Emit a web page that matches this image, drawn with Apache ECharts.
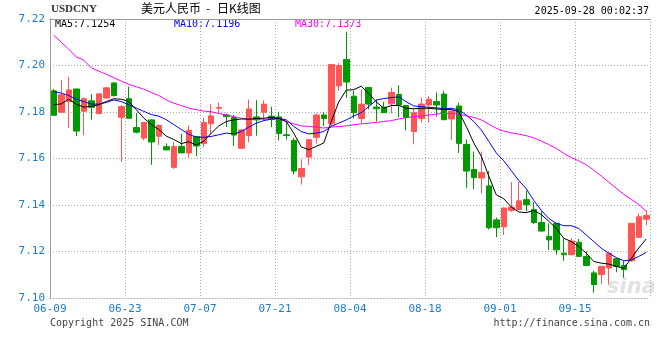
<!DOCTYPE html>
<html><head><meta charset="utf-8">
<script src="https://cdn.jsdelivr.net/npm/echarts@6/dist/echarts.min.js"></script>
<style>html,body{margin:0;padding:0;background:#fff}#c{width:660px;height:360px}</style>
</head><body><div id="c"></div>
<script>
const dates = ['06-09','06-10','06-11','06-12','06-13','06-16','06-17','06-18','06-19','06-20',
'06-23','06-24','06-25','06-26','06-27','06-30','07-01','07-02','07-03','07-04',
'07-07','07-08','07-09','07-10','07-11','07-14','07-15','07-16','07-17','07-18',
'07-21','07-22','07-23','07-24','07-25','07-28','07-29','07-30','07-31','08-01',
'08-04','08-05','08-06','08-07','08-08','08-11','08-12','08-13','08-14','08-15',
'08-18','08-19','08-20','08-21','08-22','08-25','08-26','08-27','08-28','08-29',
'09-01','09-02','09-03','09-04','09-05','09-08','09-09','09-10','09-11','09-12',
'09-15','09-16','09-17','09-18','09-19','09-22','09-23','09-24','09-25','09-26'];
const tickLabels = ['06-09','06-23','07-07','07-21','08-04','08-18','09-01','09-15'];
const yTicks = [7.10, 7.12, 7.14, 7.16, 7.18, 7.20, 7.22];

const opens = [7.1891,7.1799,7.1845,7.1899,7.1803,7.1848,7.1793,7.1860,7.1925,7.1777,
7.1857,7.1733,7.1688,7.1766,7.1696,7.1651,7.1562,7.1652,7.1624,7.1695,
7.1664,7.1749,7.1816,7.1787,7.1776,7.1644,7.1699,7.1779,7.1799,7.1782,
7.1779,7.1702,7.1678,7.1521,7.1606,7.1691,7.1787,7.1749,7.1912,7.2026,
7.1868,7.1772,7.1905,7.1821,7.1821,7.1835,7.1875,7.1828,7.1716,7.1772,
7.1830,7.1845,7.1877,7.1770,7.1826,7.1660,7.1553,7.1516,7.1482,7.1336,
7.1306,7.1377,7.1381,7.1423,7.1380,7.1325,7.1265,7.1321,7.1193,7.1186,
7.1240,7.1179,7.1108,7.1101,7.1129,7.1169,7.1140,7.1160,7.1261,7.1339];
const closes = [7.1786,7.1874,7.1895,7.1718,7.1857,7.1820,7.1878,7.1904,7.1871,7.1823,
7.1773,7.1713,7.1755,7.1671,7.1742,7.1637,7.1651,7.1624,7.1721,7.1654,
7.1755,7.1783,7.1819,7.1780,7.1701,7.1723,7.1813,7.1766,7.1834,7.1769,
7.1708,7.1699,7.1546,7.1557,7.1681,7.1787,7.1772,7.2004,7.2000,7.1929,
7.1797,7.1834,7.1834,7.1814,7.1797,7.1884,7.1830,7.1776,7.1797,7.1834,
7.1855,7.1830,7.1767,7.1804,7.1665,7.1546,7.1518,7.1540,7.1302,7.1302,
7.1387,7.1391,7.1418,7.1401,7.1325,7.1288,7.1250,7.1207,7.1186,7.1245,
7.1179,7.1140,7.1058,7.1136,7.1193,7.1136,7.1122,7.1321,7.1349,7.1355];
const lows = [7.1786,7.1799,7.1732,7.1696,7.1701,7.1767,7.1790,7.1858,7.1866,7.1586,
7.1773,7.1708,7.1679,7.1573,7.1658,7.1637,7.1555,7.1624,7.1604,7.1611,
7.1650,7.1702,7.1794,7.1735,7.1655,7.1644,7.1670,7.1698,7.1762,7.1735,
7.1678,7.1681,7.1532,7.1488,7.1572,7.1664,7.1740,7.1740,7.1891,7.1861,
7.1772,7.1752,7.1811,7.1759,7.1795,7.1794,7.1777,7.1721,7.1661,7.1755,
7.1755,7.1780,7.1765,7.1681,7.1624,7.1474,7.1468,7.1450,7.1295,7.1261,
7.1271,7.1370,7.1380,7.1373,7.1318,7.1286,7.1207,7.1186,7.1160,7.1184,
7.1177,7.1138,7.1023,7.1061,7.1058,7.1111,7.1087,7.1155,7.1258,7.1313];
const highs = [7.1899,7.1938,7.1952,7.1899,7.1862,7.1877,7.1880,7.1906,7.1927,7.1830,
7.1909,7.1796,7.1757,7.1768,7.1747,7.1665,7.1670,7.1706,7.1742,7.1697,
7.1774,7.1833,7.1840,7.1794,7.1787,7.1724,7.1854,7.1851,7.1850,7.1823,
7.1801,7.1759,7.1688,7.1596,7.1683,7.1794,7.1801,7.2006,7.2010,7.2145,
7.1891,7.1896,7.1908,7.1854,7.1844,7.1905,7.1915,7.1830,7.1814,7.1862,
7.1868,7.1884,7.1891,7.1816,7.1840,7.1681,7.1630,7.1630,7.1546,7.1346,
7.1389,7.1498,7.1500,7.1462,7.1413,7.1373,7.1321,7.1323,7.1257,7.1257,
7.1254,7.1200,7.1118,7.1138,7.1195,7.1172,7.1160,7.1323,7.1363,7.1377];

const ma5 = [7.1831,7.1835,7.1855,7.1834,7.1821,7.1824,7.1831,7.1845,7.1857,7.1855,
7.1845,7.1810,7.1774,7.1746,7.1725,7.1696,7.1682,7.1664,7.1672,7.1658,
7.1674,7.1709,7.1740,7.1759,7.1766,7.1770,7.1769,7.1772,7.1773,7.1777,
7.1773,7.1759,7.1709,7.1650,7.1638,7.1652,7.1667,7.1759,7.1844,7.1894,
7.1896,7.1911,7.1879,7.1844,7.1816,7.1828,7.1828,7.1816,7.1814,7.1816,
7.1816,7.1813,7.1811,7.1811,7.1801,7.1738,7.1667,7.1610,7.1525,7.1444,
7.1427,7.1391,7.1370,7.1367,7.1377,7.1359,7.1330,7.1299,7.1257,7.1243,
7.1221,7.1193,7.1157,7.1150,7.1146,7.1136,7.1128,7.1170,7.1215,7.1254];
const ma10 = [7.1888,7.1881,7.1871,7.1855,7.1845,7.1834,7.1834,7.1841,7.1852,7.1845,
7.1831,7.1817,7.1803,7.1789,7.1782,7.1767,7.1746,7.1725,7.1704,7.1692,
7.1691,7.1695,7.1702,7.1709,7.1706,7.1716,7.1735,7.1752,7.1763,7.1769,
7.1773,7.1766,7.1738,7.1716,7.1706,7.1709,7.1716,7.1738,7.1752,7.1766,
7.1783,7.1797,7.1823,7.1851,7.1858,7.1862,7.1865,7.1844,7.1826,7.1823,
7.1820,7.1818,7.1814,7.1816,7.1809,7.1787,7.1759,7.1723,7.1674,7.1624,
7.1590,7.1548,7.1505,7.1470,7.1420,7.1377,7.1342,7.1321,7.1311,7.1311,
7.1299,7.1271,7.1243,7.1214,7.1193,7.1174,7.1160,7.1164,7.1179,7.1196];
const ma30 = [7.2130,7.2100,7.2070,7.2037,7.2023,7.1990,7.1976,7.1962,7.1948,7.1933,
7.1919,7.1909,7.1898,7.1884,7.1871,7.1852,7.1838,7.1828,7.1817,7.1810,
7.1804,7.1801,7.1794,7.1787,7.1780,7.1773,7.1769,7.1769,7.1769,7.1770,
7.1769,7.1759,7.1749,7.1740,7.1738,7.1735,7.1731,7.1735,7.1738,7.1740,
7.1745,7.1749,7.1752,7.1755,7.1759,7.1763,7.1770,7.1776,7.1780,7.1783,
7.1787,7.1791,7.1794,7.1794,7.1790,7.1783,7.1777,7.1766,7.1748,7.1730,
7.1718,7.1710,7.1705,7.1698,7.1689,7.1675,7.1660,7.1644,7.1622,7.1604,
7.1590,7.1573,7.1550,7.1525,7.1498,7.1472,7.1446,7.1424,7.1402,7.1373];

const symbol = 'USDCNY';
const titleA = '美元人民币';
const titleB = '-';
const titleC = '日K线图';
const stamp = '2025-09-28 00:02:37';
const maLast = {ma5: '7.1254', ma10: '7.1196', ma30: '7.1373'};

const UP = '#ff5555', DOWN = '#009900';
const MONO = '"DejaVu Sans Mono", monospace';
const CJK = '"Noto Sans CJK SC", sans-serif';
const kdata = dates.map((d, i) => [opens[i], closes[i], lows[i], highs[i]]);

const chart = echarts.init(document.getElementById('c'), null, {renderer: 'canvas'});
chart.setOption({
  backgroundColor: '#fff',
  animation: false,
  grid: {left: 50, right: 10, top: 19, bottom: 62, show: false},
  xAxis: [
    {type: 'category', data: dates, boundaryGap: true, show: false},
    {type: 'value', min: 0, max: dates.length, interval: 10, position: 'bottom',
     axisLine: {show: true, lineStyle: {color: '#aaa', type: [1, 2]}},
     axisTick: {show: false},
     axisLabel: {color: '#1c7ccc', fontFamily: MONO, fontSize: 11, margin: 6,
       formatter: v => tickLabels[Math.round(v / 10)] || ''},
     splitLine: {show: true, lineStyle: {color: '#a8a8a8', type: [1, 2]}}},
    {type: 'value', min: 0, max: dates.length, position: 'top',
     axisLine: {show: true, lineStyle: {color: '#999'}},
     axisTick: {show: false}, axisLabel: {show: false}, splitLine: {show: false}}
  ],
  yAxis: [
    {type: 'value', min: yTicks[0], max: yTicks[yTicks.length - 1], interval: 0.02,
     axisLine: {show: true, lineStyle: {color: '#999'}},
     axisTick: {show: false},
     axisLabel: {color: '#1c7ccc', fontFamily: MONO, fontSize: 11, margin: 5,
       formatter: v => v.toFixed(2)},
     splitLine: {show: true, lineStyle: {color: '#a8a8a8', type: [1, 2]}}},
    {type: 'value', min: yTicks[0], max: yTicks[yTicks.length - 1], position: 'right',
     axisLine: {show: true, lineStyle: {color: '#999'}},
     axisTick: {show: false}, axisLabel: {show: false}, splitLine: {show: false}}
  ],
  series: [
    {type: 'candlestick', xAxisIndex: 0, yAxisIndex: 0, data: kdata, barWidth: 6,
     itemStyle: {color: UP, color0: DOWN, borderColor: UP, borderColor0: DOWN, borderWidth: 1}},
    {type: 'line', xAxisIndex: 0, data: ma30, showSymbol: false, symbol: 'none',
     lineStyle: {color: '#ff00ff', width: 1}},
    {type: 'line', xAxisIndex: 0, data: ma10, showSymbol: false, symbol: 'none',
     lineStyle: {color: '#0000ff', width: 1}},
    {type: 'line', xAxisIndex: 0, data: ma5, showSymbol: false, symbol: 'none',
     lineStyle: {color: '#000000', width: 1}}
  ],
  graphic: [
    {type: 'text', left: 51, top: 4, style: {text: symbol, font: 'bold 11px "Liberation Serif", serif', fill: '#333'}},
    {type: 'text', left: 141, top: 2, style: {text: titleA, font: '12px ' + CJK, fill: '#000'}},
    {type: 'text', left: 206, top: 2, style: {text: titleB, font: '12px ' + CJK, fill: '#000'}},
    {type: 'text', left: 217, top: 2, style: {text: titleC, font: '12px ' + CJK, fill: '#000'}},
    {type: 'text', right: 11, top: 6, style: {text: stamp, font: '10px ' + MONO, fill: '#000'}},
    {type: 'text', left: 55, top: 19, style: {text: 'MA5:' + maLast.ma5, font: '10px ' + MONO, fill: '#000'}},
    {type: 'text', left: 174, top: 19, style: {text: 'MA10:' + maLast.ma10, font: '10px ' + MONO, fill: '#0000ff'}},
    {type: 'text', left: 295, top: 19, style: {text: 'MA30:' + maLast.ma30, font: '10px ' + MONO, fill: '#ff00ff'}},
    {type: 'text', left: 607, top: 277, style: {text: 'sina', font: 'italic bold 21px "DejaVu Sans", sans-serif', fill: 'rgba(160,160,160,0.3)'}},
    {type: 'text', left: 50, top: 318, style: {text: 'Copyright 2025 SINA.COM', font: '10px ' + MONO, fill: '#444'}},
    {type: 'text', right: 10, top: 318, style: {text: 'http://finance.sina.com.cn', font: '10px ' + MONO, fill: '#444'}}
  ]
});
</script></body></html>
